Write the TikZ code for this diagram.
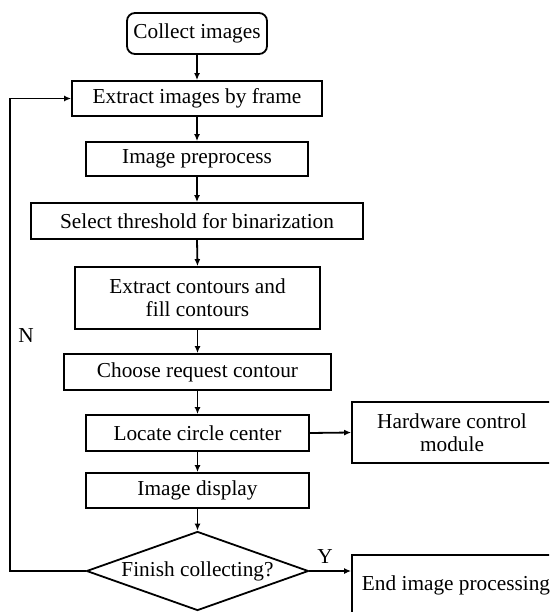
\documentclass[tikz,border=0pt]{standalone}
\usepackage{fontspec}
\setmainfont{Liberation Serif}
\usetikzlibrary{shapes.geometric,arrows.meta}
\begin{document}
\begin{tikzpicture}[x=1pt,y=-1pt,
  every node/.style={font=\fontsize{21.3}{23}\selectfont},
  box/.style={draw,line width=1.8pt,inner sep=0pt,align=center},
  dec/.style={draw,line width=1.8pt,shape=diamond,inner sep=0pt,aspect=2.8,align=center},
  lab/.style={inner sep=0pt},
  arr/.style={line width=1.8pt,-{Latex[length=7pt,width=6pt]}},
  ln/.style={line width=1.8pt}]
\useasboundingbox (0,0) rectangle (549,612);
\clip (0,0) rectangle (549,612);
\node[box,rounded corners=8pt,minimum width=140pt,minimum height=41pt] (collect) at (197,33.5) {Collect images};
\node[box,minimum width=250pt,minimum height=35pt] (extract) at (197,98.5) {Extract images by frame};
\node[box,minimum width=222pt,minimum height=34pt] (prep) at (197,159) {Image preprocess};
\node[box,minimum width=332pt,minimum height=36pt] (thresh) at (197,221) {Select threshold for binarization};
\node[box,minimum width=245pt,minimum height=62pt] (contours) at (197.5,298) {Extract contours and\\fill contours};
\node[box,minimum width=267pt,minimum height=36pt] (choose) at (197.5,372) {Choose request contour};
\node[box,minimum width=223pt,minimum height=36pt] (locate) at (197.5,433) {Locate circle center};
\node[box,minimum width=223pt,minimum height=35pt] (display) at (197.5,490.5) {Image display};
\node[dec,minimum width=222pt,minimum height=79pt] (finish) at (197.5,571) {Finish collecting?};
\node[box,minimum width=200pt,minimum height=61pt] (hw) at (452,432.5) {Hardware control\\module};
\node[box,minimum width=208pt,minimum height=60pt] (end) at (456,585) {End image processing};
\node[lab] (nlab) at (26,336) {N};
\node[lab] (ylab) at (325,557) {Y};
\coordinate (fbx) at (10,0);
\draw[arr] (collect.south) -- (extract.north);
\draw[arr] (extract.south) -- (prep.north);
\draw[arr] (prep.south) -- (thresh.north);
\draw[arr] (thresh.south) -- (contours.north);
\draw[arr] (contours.south) -- (choose.north);
\draw[arr] (choose.south) -- (locate.north);
\draw[arr] (locate.south) -- (display.north);
\draw[arr] (display.south) -- (finish.north);
\draw[arr] (locate.east) -- (hw.west);
\draw[arr] (finish.east) -- (finish.east -| end.west);
\draw[arr] (finish.west) -- (finish.west -| fbx) |- (extract.west);
\end{tikzpicture}
\end{document}
